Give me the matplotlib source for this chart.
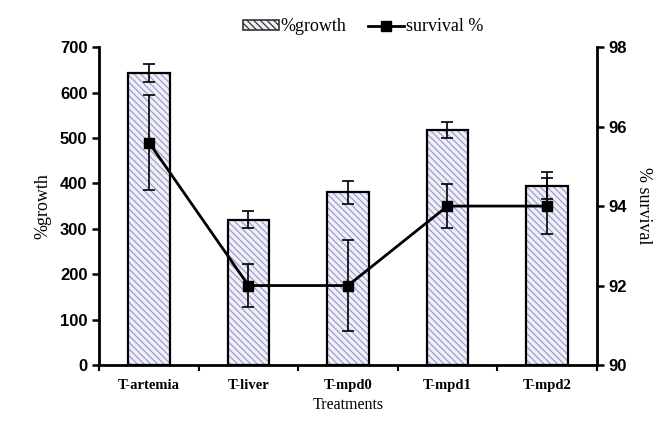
import numpy as np
from matplotlib import pyplot as plt
from matplotlib.patches import Patch
from matplotlib.lines import Line2D

categories = ['T-artemia', 'T-liver', 'T-mpd0', 'T-mpd1', 'T-mpd2']
growth = [643, 320, 380, 517, 395]
growth_err = [19, 19, 25, 18, 30]
survival = [95.6, 92.0, 92.0, 94.0, 94.0]
survival_err = [1.2, 0.55, 1.15, 0.55, 0.7]

plt.rcParams['hatch.linewidth'] = 0.9

fig = plt.figure(figsize=(6.66, 4.21), dpi=100)
ax = fig.add_axes([0.149, 0.133, 0.747, 0.755])
x = np.arange(len(categories))

# hatched fill first, then black outline on top
ax.bar(x, growth, width=0.42, color='#f0f0f8', edgecolor='#9d9dcc',
       hatch='\\\\\\\\\\', linewidth=0, zorder=2)
ax.bar(x, growth, width=0.42, fill=False, edgecolor='black',
       linewidth=1.6, zorder=3)
ax.errorbar(x, growth, yerr=growth_err, fmt='none', ecolor='black',
            elinewidth=1.2, capsize=4, capthick=1.2, zorder=4)

ax.set_xlim(-0.5, 4.5)
ax.set_ylim(0, 700)
ax.set_yticks(range(0, 701, 100))
ax.set_xticks(x)
ax.set_xticklabels(categories, family='Liberation Serif', fontweight='bold', fontsize=10.5)
ax.set_xticks(np.arange(-0.5, 5, 1), minor=True)
ax.tick_params(axis='x', which='major', length=0, pad=10)
ax.tick_params(axis='x', which='minor', length=4, width=1.5, direction='out')
ax.tick_params(axis='y', length=5, width=1.8, direction='out')
for lab in ax.get_yticklabels():
    lab.set_family('Liberation Sans')
    lab.set_fontweight('bold')
    lab.set_fontsize(12)
ax.set_xlabel('Treatments', family='Liberation Serif', fontsize=11.5, labelpad=4)
ax.set_ylabel('%growth', family='Liberation Serif', fontsize=13, labelpad=6)
ax.spines['top'].set_visible(False)
ax.spines['right'].set_visible(False)
ax.spines['left'].set_linewidth(2)
ax.spines['bottom'].set_linewidth(2)

ax2 = ax.twinx()
ax2.errorbar(x, survival, yerr=survival_err, color='black', lw=2,
             marker='s', markersize=7, ecolor='black', elinewidth=1.2,
             capsize=4, capthick=1.2, zorder=5)
ax2.set_ylim(90, 98)
ax2.set_yticks([90, 92, 94, 96, 98])
ax2.tick_params(axis='y', length=5, width=1.8, direction='out')
for lab in ax2.get_yticklabels():
    lab.set_family('Liberation Sans')
    lab.set_fontweight('bold')
    lab.set_fontsize(12)
ax2.set_ylabel('% survival', family='Liberation Serif', fontsize=13,
               rotation=270, labelpad=18)
ax2.spines['top'].set_visible(False)
ax2.spines['left'].set_visible(False)
ax2.spines['bottom'].set_visible(False)
ax2.spines['right'].set_linewidth(2)

handles = [Patch(facecolor='#f0f0f8', edgecolor='#333333', hatch='\\\\\\\\\\', linewidth=1.2),
           Line2D([], [], color='black', lw=2, marker='s', markersize=7)]
fig.legend(handles, ['%growth', 'survival %'], loc='upper center',
           bbox_to_anchor=(0.545, 0.995), ncol=2, frameon=False,
           prop={'family': 'Liberation Serif', 'size': 13},
           handlelength=2.0, handleheight=0.5, columnspacing=1.2, handletextpad=0.1)

fig.savefig('out.png', dpi=100)
